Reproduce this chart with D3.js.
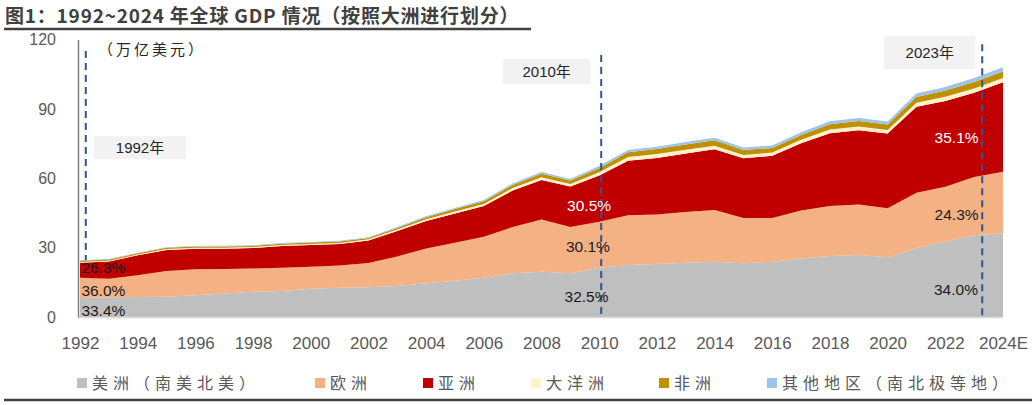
<!DOCTYPE html>
<html>
<head>
<meta charset="utf-8">
<script src="https://cdn.jsdelivr.net/npm/d3@7/dist/d3.min.js"></script>
<style>
  html, body { margin: 0; padding: 0; background: #fff; }
  svg { display: block; }
</style>
</head>
<body>
<svg id="chart" width="1036" height="405"></svg>
<script>
// ---------------- data (万亿美元) ----------------
const years = [1992,1993,1994,1995,1996,1997,1998,1999,2000,2001,2002,2003,2004,2005,2006,2007,2008,2009,2010,2011,2012,2013,2014,2015,2016,2017,2018,2019,2020,2021,2022,2023,2024];
const americas = [8.2,8.5,8.6,8.8,9.4,10.2,10.9,11.2,12.2,12.7,12.9,13.4,14.6,15.7,17.0,18.9,19.6,18.9,21.35,22.5,22.9,23.5,23.9,23.2,23.9,25.3,26.4,26.8,25.8,29.7,32.6,35.3,36.2];
const europe   = [8.8,8.0,9.5,11.1,11.2,10.6,10.1,10.1,9.5,9.6,10.4,12.8,15.0,16.4,17.7,20.0,22.6,20.0,19.8,21.5,21.4,21.9,22.4,19.6,18.9,20.8,21.6,21.9,21.2,24.0,23.7,25.2,26.6];
const asia     = [6.45,7.5,8.6,9.1,8.9,8.7,8.8,9.4,9.4,9.3,9.8,11.0,11.9,12.7,13.3,15.8,17.0,17.5,20.0,23.6,24.5,25.3,26.2,25.9,26.9,29.0,31.5,32.1,32.4,37.2,37.1,36.5,38.7];
const oceania  = [0.35,0.36,0.38,0.42,0.46,0.47,0.42,0.45,0.47,0.45,0.48,0.6,0.75,0.85,0.9,1.05,1.2,1.1,1.4,1.6,1.7,1.65,1.6,1.4,1.4,1.5,1.6,1.55,1.5,1.7,1.8,1.8,1.8];
const africa   = [0.5,0.48,0.47,0.5,0.52,0.53,0.52,0.53,0.6,0.58,0.6,0.72,0.85,1.0,1.15,1.35,1.55,1.5,1.8,2.0,2.1,2.2,2.3,2.1,2.0,2.1,2.3,2.4,2.3,2.5,2.7,2.8,2.9];
const others   = [0.2,0.2,0.22,0.25,0.26,0.27,0.27,0.28,0.3,0.3,0.32,0.38,0.45,0.5,0.55,0.65,0.75,0.7,0.9,1.0,1.05,1.1,1.15,1.1,1.1,1.2,1.3,1.35,1.35,1.5,1.6,1.7,1.8];

const seriesNames = ["美洲（南美北美）","欧洲","亚洲","大洋洲","非洲","其他地区（南北极等地）"];
const seriesKeys  = ["americas","europe","asia","oceania","africa","others"];

const xTickValues = [1992,1994,1996,1998,2000,2002,2004,2006,2008,2010,2012,2014,2016,2018,2020,2022,2024];
const xTickLabels = ["1992","1994","1996","1998","2000","2002","2004","2006","2008","2010","2012","2014","2016","2018","2020","2022","2024E"];
const yTickValues = [0,30,60,90,120];

// share labels (text, anchor year, anchor value)
const shareTexts  = ["33.4%","36.0%","26.3%","32.5%","30.1%","30.5%","34.0%","24.3%","35.1%"];
const shareYears  = [1992.81,1992.81,1992.81,2009.56,2009.61,2009.65,2022.37,2022.39,2022.39];
const shareValues = [3.0,11.7,21.4,9.1,30.7,48.4,12.1,44.5,77.6];

// marker years (dashed lines) and their boxes
const markerYears = [1992.2,2010.07,2023.28];
const markerTops  = [115,113.3,118];
const boxTexts    = ["1992年","2010年","2023年"];
const boxYears    = [1994.08,2008.18,2021.46];
const boxValues   = [73.2,106.1,114.4];

const title = "图1：1992~2024 年全球 GDP 情况（按照大洲进行划分）";
const unitText = "（万亿美元）";

// ---------------- drawing ----------------
const colors = ["#bfbfbf","#f4b183","#c00000","#fff2cc","#bf9000","#9dc3e6"];
const svg = d3.select("#chart");

const x = d3.scaleLinear().domain([1992, 2024]).range([80, 1003]);
const y = d3.scaleLinear().domain([0, 120]).range([317, 39.5]);

const table = years.map((yr, i) => ({
  year: yr, americas: americas[i], europe: europe[i], asia: asia[i],
  oceania: oceania[i], africa: africa[i], others: others[i]
}));
const stacked = d3.stack().keys(seriesKeys)(table);

// title
svg.append("text")
  .attr("x", 5).attr("y", 22.5)
  .attr("font-family", "'Noto Sans CJK SC', sans-serif")
  .attr("font-weight", "bold")
  .attr("font-size", 19)
  .attr("letter-spacing", 0.8)
  .attr("fill", "#404040")
  .text(title);
svg.append("line")
  .attr("x1", 4).attr("x2", 531).attr("y1", 29).attr("y2", 29)
  .attr("stroke", "#404040").attr("stroke-width", 2.5);

// areas
const area = d3.area()
  .x(d => x(d.data.year))
  .y0(d => y(d[0]))
  .y1(d => y(d[1]));
svg.append("g").selectAll("path")
  .data(stacked)
  .join("path")
  .attr("d", area)
  .attr("fill", (d, i) => colors[i]);

// x axis
const xAxis = d3.axisBottom(x)
  .tickValues(xTickValues)
  .tickFormat((d, i) => xTickLabels[i])
  .tickSize(0)
  .tickPadding(20);
const gx = svg.append("g").attr("transform", `translate(0,${y(0)})`).call(xAxis);
gx.select(".domain").attr("stroke", "#d9d9d9").attr("stroke-width", 1.5)
  .attr("d", `M${x(1992) - 2},0.5H${x(2024)}`);
gx.selectAll("text")
  .attr("font-family", "'Liberation Sans Narrow', 'Liberation Sans', sans-serif")
  .attr("font-size", 17)
  .attr("fill", "#595959");

// y axis
const yAxis = d3.axisLeft(y).tickValues(yTickValues).tickSize(0).tickPadding(22);
const gy = svg.append("g").attr("transform", `translate(78,0)`).call(yAxis);
gy.select(".domain").attr("stroke", "#7f7f7f").attr("stroke-width", 1.5);
gy.selectAll("text")
  .attr("font-family", "'Liberation Sans', sans-serif")
  .attr("font-size", 16)
  .attr("fill", "#595959");

// dashed marker lines
const totals = stacked[stacked.length - 1];
svg.append("g").selectAll("line")
  .data(markerYears)
  .join("line")
  .attr("x1", d => x(d)).attr("x2", d => x(d))
  .attr("y1", (d, i) => y(markerTops[i]))
  .attr("y2", (d, i) => i === 0 ? y(totals[0][1]) : y(0))
  .attr("stroke", "#2f5597")
  .attr("stroke-width", 2)
  .attr("stroke-dasharray", "7,5");

// boxes
const boxW = [92, 88, 91], boxH = [23, 25, 33];
const gb = svg.append("g").selectAll("g")
  .data(boxTexts)
  .join("g")
  .attr("transform", (d, i) => `translate(${x(boxYears[i])},${y(boxValues[i])})`);
gb.append("rect")
  .attr("x", (d, i) => -boxW[i] / 2).attr("y", (d, i) => -boxH[i] / 2)
  .attr("width", (d, i) => boxW[i]).attr("height", (d, i) => boxH[i])
  .attr("fill", "#f2f2f2");
gb.append("text")
  .attr("text-anchor", "middle").attr("dy", "0.36em")
  .attr("font-family", "'Liberation Sans', 'Noto Sans CJK SC', sans-serif")
  .attr("font-size", 15)
  .attr("fill", "#262626")
  .text(d => d);

// share labels
svg.append("g").selectAll("text")
  .data(shareTexts)
  .join("text")
  .attr("x", (d, i) => x(shareYears[i]))
  .attr("y", (d, i) => y(shareValues[i]))
  .attr("dy", "0.36em")
  .attr("text-anchor", "middle")
  .attr("font-family", "'Liberation Sans', sans-serif")
  .attr("font-size", 15.5)
  .attr("fill", (d, i) => (i === 5 || i === 8) ? "#ffffff" : "#1a1a1a")
  .text(d => d);

// unit text
svg.append("text")
  .attr("x", 98).attr("y", 50).attr("dy", "0.36em")
  .attr("font-family", "'Noto Sans CJK SC', sans-serif")
  .attr("font-size", 15)
  .attr("letter-spacing", 3)
  .attr("fill", "#262626")
  .text(unitText);

// legend
const legendX = [77, 315, 423, 531, 659, 767];
const lg = svg.append("g").selectAll("g")
  .data(seriesNames)
  .join("g")
  .attr("transform", (d, i) => `translate(${legendX[i]},383)`);
lg.append("rect")
  .attr("x", 0).attr("y", -5).attr("width", 10).attr("height", 10)
  .attr("fill", (d, i) => colors[i]);
lg.append("text")
  .attr("x", 15).attr("dy", "0.36em")
  .attr("font-family", "'Noto Sans CJK SC', sans-serif")
  .attr("font-size", 16)
  .attr("letter-spacing", 5)
  .attr("fill", "#595959")
  .text(d => d);

// bottom rule
svg.append("line")
  .attr("x1", 4).attr("x2", 1032).attr("y1", 400).attr("y2", 400)
  .attr("stroke", "#404040").attr("stroke-width", 2.5);
</script>
</body>
</html>
